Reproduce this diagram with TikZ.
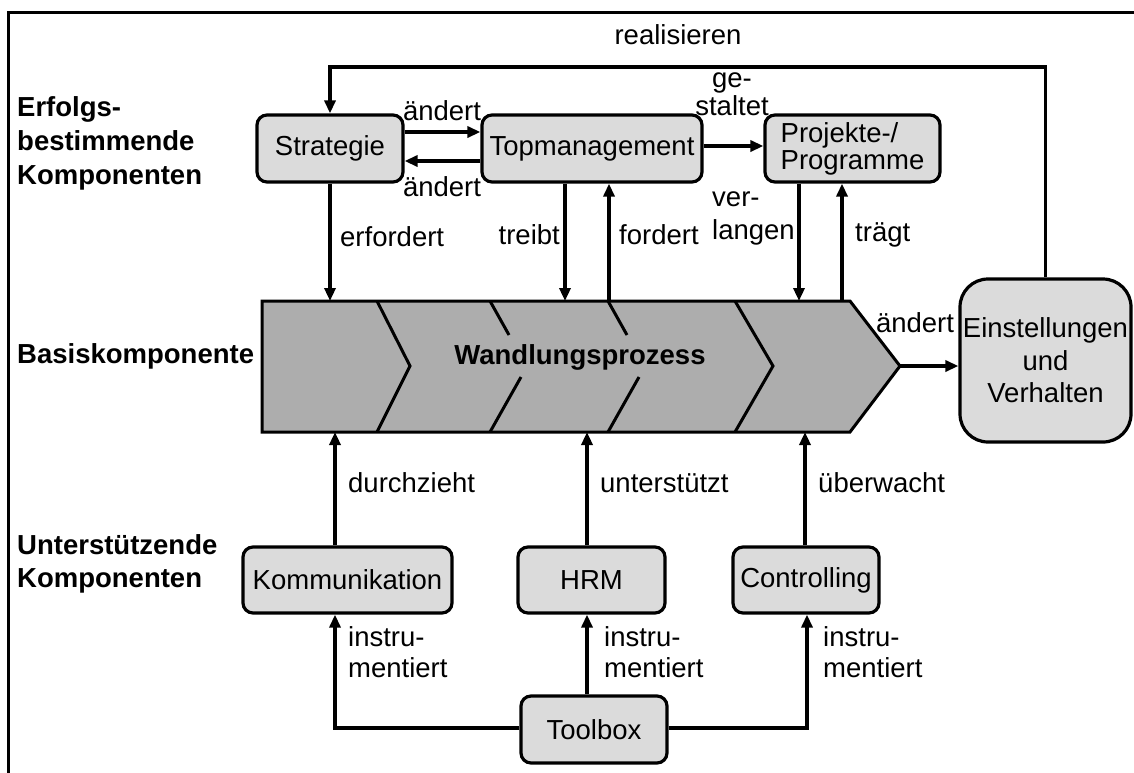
\documentclass[tikz,border=0pt]{standalone}
\usepackage{fontspec}
\setmainfont{Liberation Sans}
\usetikzlibrary{arrows.meta}

\definecolor{boxgray}{gray}{0.86}
\definecolor{procgray}{gray}{0.68}

\begin{document}
\begin{tikzpicture}[x=1pt,y=-1pt,
  font=\fontsize{27.5}{32}\selectfont,
  box/.style={draw, line width=3.2pt, fill=boxgray, rounded corners=10pt,
              minimum height=67pt, inner sep=0pt},
  lbl/.style={inner sep=0pt},
  heading/.style={inner sep=0pt, anchor=west, align=left,
                  font=\fontsize{27.5}{34}\selectfont\bfseries},
  conn/.style={line width=3.4pt, -{Triangle[length=13pt,width=11pt]}},
  wire/.style={line width=3pt}
]
\useasboundingbox (0,0) rectangle (1134,772);
\clip (0,0) rectangle (1134,772);

% outer frame
\draw[line width=3pt] (8.3,790) -- (8.3,12.3) -- (1150,12.3) -- (1150,790) -- cycle;

% row headings
\node[heading] (hErf) at (17,143) {Erfolgs-\\bestimmende\\Komponenten};
\node[heading] (hBasis) at (17,356) {Basiskomponente};
\node[heading, font=\fontsize{27.5}{33}\selectfont\bfseries] (hUnt) at (17,563.5) {Unterstützende\\Komponenten};

% success-determining components
\node[box, minimum width=146pt] (strat) at (330,148.5) {Strategie};
\node[box, minimum width=220pt] (top) at (592,148.5) {Topmanagement};
\node[box, minimum width=175pt, align=left, font=\fontsize{27.5}{27}\selectfont] (proj) at (852.5,148.5) {Projekte-/\\Programme};
\node[box, minimum width=171pt, minimum height=163pt, rounded corners=28pt, align=center,
      font=\fontsize{27.5}{32.5}\selectfont] (einst) at (1045.5,360.5) {Einstellungen\\und\\Verhalten};

% supporting components
\node[box, minimum width=209pt, minimum height=66pt] (komm) at (347.5,580) {Kommunikation};
\node[box, minimum width=147pt, minimum height=66pt] (hrm) at (591.5,580) {HRM};
\node[box, minimum width=146pt, minimum height=66pt] (ctrl) at (806,580) {Controlling};
\node[box, minimum width=146pt] (tool) at (594,729.5) {Toolbox};

% the transformation process (chevron band)
\filldraw[fill=procgray, wire, line join=miter]
  (262,301) -- (850,301) -- (900,366) -- (850,432) -- (262,432) -- cycle;
\draw[wire] (377,301) -- (410,366) -- (377,432);
\draw[wire] (490,301) -- (509,335);
\draw[wire] (521,377) -- (490,432);
\draw[wire] (608,301) -- (627,335);
\draw[wire] (639,377) -- (608,432);
\draw[wire] (735,301) -- (773,366) -- (735,432);
\node[lbl, font=\fontsize{27.5}{32}\selectfont\bfseries] (wp) at (580,357) {Wandlungsprozess};

\coordinate (tip) at (900,366);
\coordinate (ptop) at (0,301);
\coordinate (fb) at (0,67);
\coordinate (tTreibt) at (565,301);
\coordinate (tFordert) at (609,301);
\coordinate (tVerl) at (799,301);
\coordinate (tTraegt) at (842,301);
\coordinate (bKomm) at (335,432);
\coordinate (bHRM) at (587,432);
\coordinate (bCtrl) at (805,432);

% connectors, top part
\draw[conn] (einst.north) -- (einst.north |- fb) -| (strat.north);
\draw[conn] ([yshift=16.5pt]strat.east) -- ([yshift=16.5pt]top.west);
\draw[conn] ([yshift=-12.5pt]top.west) -- ([yshift=-12.5pt]strat.east);
\draw[conn] ([yshift=2.5pt]top.east) -- ([yshift=2.5pt]proj.west);
\draw[conn] (strat.south) -- (strat.south |- ptop);
\draw[conn] (top.south -| tTreibt) -- (tTreibt);
\draw[conn] (tFordert) -- (top.south -| tFordert);
\draw[conn] (proj.south -| tVerl) -- (tVerl);
\draw[conn] (tTraegt) -- (proj.south -| tTraegt);
\draw[conn] (tip) -- (einst.west |- tip);

% connectors, bottom part
\draw[conn] (komm.north -| bKomm) -- (bKomm);
\draw[conn] (hrm.north -| bHRM) -- (bHRM);
\draw[conn] (ctrl.north -| bCtrl) -- (bCtrl);
\draw[conn] ([yshift=1.5pt]tool.west) -| (komm.south -| bKomm);
\draw[conn] (tool.north -| bHRM) -- (hrm.south -| bHRM);
\draw[conn] ([yshift=1.5pt]tool.east) -| ([xshift=1pt]ctrl.south);

% connector labels
\node[lbl] (lReal) at (678,35) {realisieren};
\node[lbl] (lAend1) at (442,111) {ändert};
\node[lbl] (lAend2) at (442,187) {ändert};
\node[lbl, align=center, font=\fontsize{27.5}{28}\selectfont] (lGest) at (732,94) {ge-\\staltet};
\node[lbl, anchor=west] (lErf) at (340,237) {erfordert};
\node[lbl, anchor=east] (lTreibt) at (560,235) {treibt};
\node[lbl, anchor=west] (lFord) at (619,235) {fordert};
\node[lbl, anchor=west, align=left, font=\fontsize{27.5}{33}\selectfont] (lVerl) at (712,218.5) {ver-\\langen};
\node[lbl, anchor=west] (lTraegt) at (855,235) {trägt};
\node[lbl] (lAend3) at (915,323) {ändert};
\node[lbl, anchor=west] (lDurch) at (348,483) {durchzieht};
\node[lbl, anchor=west] (lUnter) at (600,483) {unterstützt};
\node[lbl, anchor=west] (lUeber) at (818,483) {überwacht};
\node[lbl, anchor=west, align=left, font=\fontsize{27.5}{31}\selectfont] (lInst1) at (348,652.5) {instru-\\mentiert};
\node[lbl, anchor=west, align=left, font=\fontsize{27.5}{31}\selectfont] (lInst2) at (604,652.5) {instru-\\mentiert};
\node[lbl, anchor=west, align=left, font=\fontsize{27.5}{31}\selectfont] (lInst3) at (823,652.5) {instru-\\mentiert};
\end{tikzpicture}
\end{document}
